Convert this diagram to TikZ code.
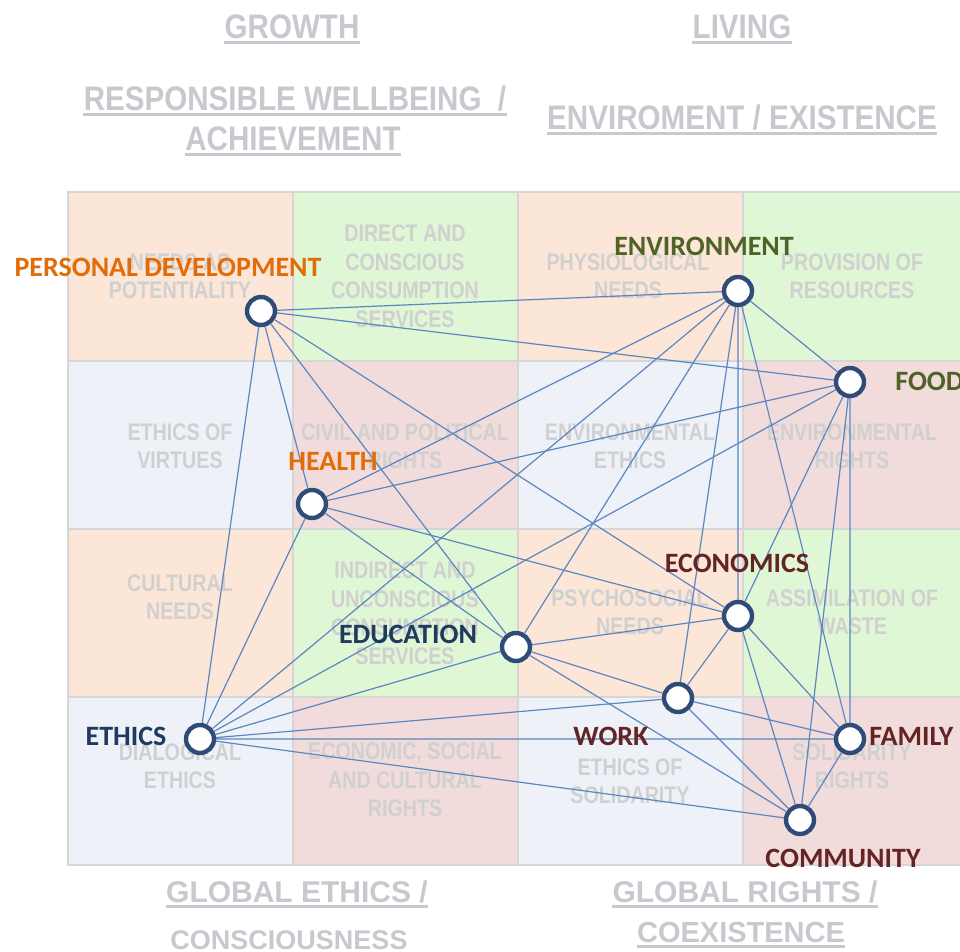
\documentclass[tikz,border=0pt]{standalone}
\usepackage{fontspec}
\setmainfont{Liberation Sans}
\newfontfamily\cellfont[FakeStretch=0.82]{Liberation Sans}
\newfontfamily\headfont[FakeStretch=0.87]{Liberation Sans}
\newfontfamily\hubfont{Carlito}
\usepackage{tikz}
\usetikzlibrary{positioning}
\definecolor{clrOrg}{HTML}{FCE6D7}
\definecolor{clrGrn}{HTML}{E0F7D6}
\definecolor{clrBlu}{HTML}{EEF2F8}
\definecolor{clrRed}{HTML}{F2DCDB}
\definecolor{clrGridLn}{HTML}{D6D6D6}
\definecolor{clrCellTxt}{HTML}{D0D0D0}
\definecolor{clrHead}{HTML}{C8C9CE}
\definecolor{clrEdge}{HTML}{5B86C0}
\definecolor{clrHub}{HTML}{2F4B78}
\definecolor{clrLabOrg}{HTML}{E36C0A}
\definecolor{clrLabGrn}{HTML}{4F6228}
\definecolor{clrLabNavy}{HTML}{1F3A5F}
\definecolor{clrLabBrn}{HTML}{632523}
\tikzset{
  cell/.style={font=\cellfont\bfseries\fontsize{12}{14.25}\selectfont,
    text=clrCellTxt, align=center, inner sep=0pt},
  head/.style={font=\headfont\bfseries\fontsize{17}{20}\selectfont,
    text=clrHead, anchor=base, inner xsep=0pt, inner ysep=1pt},
  foot/.style={head, font=\bfseries\fontsize{15}{18}\selectfont},
  uline/.style={draw=clrHead, line width=1.5pt},
  gridline/.style={draw=clrGridLn, line width=0.7pt},
  hub/.style={circle, draw=clrHub, line width=2.2pt, fill=white,
    minimum size=14pt, inner sep=0pt},
  hublab/.style={font=\hubfont\bfseries\fontsize{14}{16}\selectfont,
    anchor=base, inner sep=0pt},
  edge/.style={draw=clrEdge, line width=0.6pt},
}
\newcommand{\underhead}[1]{%
  \draw[uline] ([yshift=-2pt]#1.base west) -- ([yshift=-2pt]#1.base east);}

\begin{document}
\begin{tikzpicture}[x=0.5pt, y=-0.5pt]
\useasboundingbox (0,0) rectangle (960,952);
\fill[white] (0,0) rectangle (960,952);

% ── headers ────────────────────────────────────────────────────────────────
\node[head] (hGrowth) at (292,39) {GROWTH};
\node[head] (hLiving) at (742,39) {LIVING};
\node[head] (hWell) at (295,111) {RESPONSIBLE WELLBEING\ \ /};
\node[head] (hAchieve) at (293,151) {ACHIEVEMENT};
\node[head] (hExist) at (742,130) {ENVIROMENT / EXISTENCE};
\underhead{hGrowth}
\underhead{hLiving}
\underhead{hWell}
\underhead{hAchieve}
\underhead{hExist}

% ── grid of cells ──────────────────────────────────────────────────────────
\fill[clrOrg] (68,192) rectangle (293,361);
\fill[clrGrn] (293,192) rectangle (518,361);
\fill[clrOrg] (518,192) rectangle (743,361);
\fill[clrGrn] (743,192) rectangle (962,361);
\fill[clrBlu] (68,361) rectangle (293,529);
\fill[clrRed] (293,361) rectangle (518,529);
\fill[clrBlu] (518,361) rectangle (743,529);
\fill[clrRed] (743,361) rectangle (962,529);
\fill[clrOrg] (68,529) rectangle (293,697);
\fill[clrGrn] (293,529) rectangle (518,697);
\fill[clrOrg] (518,529) rectangle (743,697);
\fill[clrGrn] (743,529) rectangle (962,697);
\fill[clrBlu] (68,697) rectangle (293,865);
\fill[clrRed] (293,697) rectangle (518,865);
\fill[clrBlu] (518,697) rectangle (743,865);
\fill[clrRed] (743,697) rectangle (962,865);
\draw[gridline] (68,192) rectangle (962,865);
\draw[gridline] (293,192) -- (293,865) (518,192) -- (518,865) (743,192) -- (743,865);
\draw[gridline] (68,361) -- (962,361) (68,529) -- (962,529) (68,697) -- (962,697);

% ── cell texts ─────────────────────────────────────────────────────────────
\node[cell] (c11) at (180,276) {NEEDS AS\\POTENTIALITY};
\node[cell] (c12) at (405,276) {DIRECT AND\\CONSCIOUS\\CONSUMPTION\\SERVICES};
\node[cell] (c13) at (628,276) {PHYSIOLOGICAL\\NEEDS};
\node[cell] (c14) at (852,276) {PROVISION OF\\RESOURCES};
\node[cell] (c21) at (180,446) {ETHICS OF\\VIRTUES};
\node[cell] (c22) at (405,446) {CIVIL AND POLITICAL\\RIGHTS};
\node[cell] (c23) at (630,446) {ENVIRONMENTAL\\ETHICS};
\node[cell] (c24) at (852,446) {ENVIRONMENTAL\\RIGHTS};
\node[cell] (c31) at (180,597) {CULTURAL\\NEEDS};
\node[cell] (c32) at (405,613) {INDIRECT AND\\UNCONSCIOUS\\CONSUMPTION\\SERVICES};
\node[cell] (c33) at (630,612) {PSYCHOSOCIAL\\NEEDS};
\node[cell] (c34) at (852,612) {ASSIMILATION OF\\WASTE};
\node[cell] (c41) at (180,766) {DIALOGICAL\\ETHICS};
\node[cell] (c42) at (405,780) {ECONOMIC, SOCIAL\\AND CULTURAL\\RIGHTS};
\node[cell] (c43) at (630,781) {ETHICS OF\\SOLIDARITY};
\node[cell] (c44) at (852,766) {SOLIDARITY\\RIGHTS};

% ── footers ────────────────────────────────────────────────────────────────
\node[foot] (hGlobEth) at (297,902) {GLOBAL ETHICS /};
\node[foot, font=\bfseries\fontsize{13.5}{16}\selectfont] (hConsc) at (289,949) {CONSCIOUSNESS};
\node[foot] (hGlobRts) at (745,902) {GLOBAL RIGHTS /};
\node[foot, font=\bfseries\fontsize{14.5}{17}\selectfont] (hCoex) at (741,942) {COEXISTENCE};
\underhead{hGlobEth}
\underhead{hGlobRts}
\underhead{hCoex}

% ── hubs ───────────────────────────────────────────────────────────────────
\node[hub] (pd) at (261,311) {};
\node[hub] (env) at (738,291) {};
\node[hub] (food) at (850,382) {};
\node[hub] (health) at (312,504) {};
\node[hub] (econ) at (738,616) {};
\node[hub] (edu) at (516,647) {};
\node[hub] (work) at (678,698) {};
\node[hub] (ethics) at (200,739) {};
\node[hub] (family) at (850,739) {};
\node[hub] (comm) at (800,820) {};

% ── connections ────────────────────────────────────────────────────────────
\draw[edge] (pd) -- (env) (pd) -- (food) (pd) -- (health)
  (pd) -- (edu) (pd) -- (econ) (pd) -- (ethics);
\draw[edge] (health) -- (env) (health) -- (food) (health) -- (econ)
  (health) -- (edu) (health) -- (ethics);
\draw[edge] (ethics) -- (env) (ethics) -- (food) (ethics) -- (edu)
  (ethics) -- (work) (ethics) -- (family) (ethics) -- (comm);
\draw[edge] (env) -- (edu) (env) -- (work) (env) -- (econ)
  (env) -- (family) (env) -- (food);
\draw[edge] (food) -- (econ) (food) -- (family) (food) -- (comm);
\draw[edge] (econ) -- (edu) (econ) -- (work) (econ) -- (comm) (econ) -- (family);
\draw[edge] (edu) -- (work) (edu) -- (comm);
\draw[edge] (work) -- (family) (work) -- (comm);
\draw[edge] (family) -- (comm);

% ── hub labels ─────────────────────────────────────────────────────────────
\node[hublab, text=clrLabOrg] (lpd) at (168,277) {PERSONAL DEVELOPMENT};
\node[hublab, text=clrLabOrg] (lhealth) at (333,471) {HEALTH};
\node[hublab, text=clrLabGrn] (lenv) at (704,256) {ENVIRONMENT};
\node[hublab, text=clrLabGrn, anchor=base west] (lfood) at (895,391) {FOOD};
\node[hublab, text=clrLabBrn] (lecon) at (737,573) {ECONOMICS};
\node[hublab, text=clrLabNavy] (ledu) at (408,644) {EDUCATION};
\node[hublab, text=clrLabBrn] (lwork) at (611,746) {WORK};
\node[hublab, text=clrLabNavy] (lethics) at (126,746) {ETHICS};
\node[hublab, text=clrLabBrn, anchor=base west] (lfamily) at (869,746) {FAMILY};
\node[hublab, text=clrLabBrn] (lcomm) at (843,867) {COMMUNITY};

\end{tikzpicture}
\end{document}
